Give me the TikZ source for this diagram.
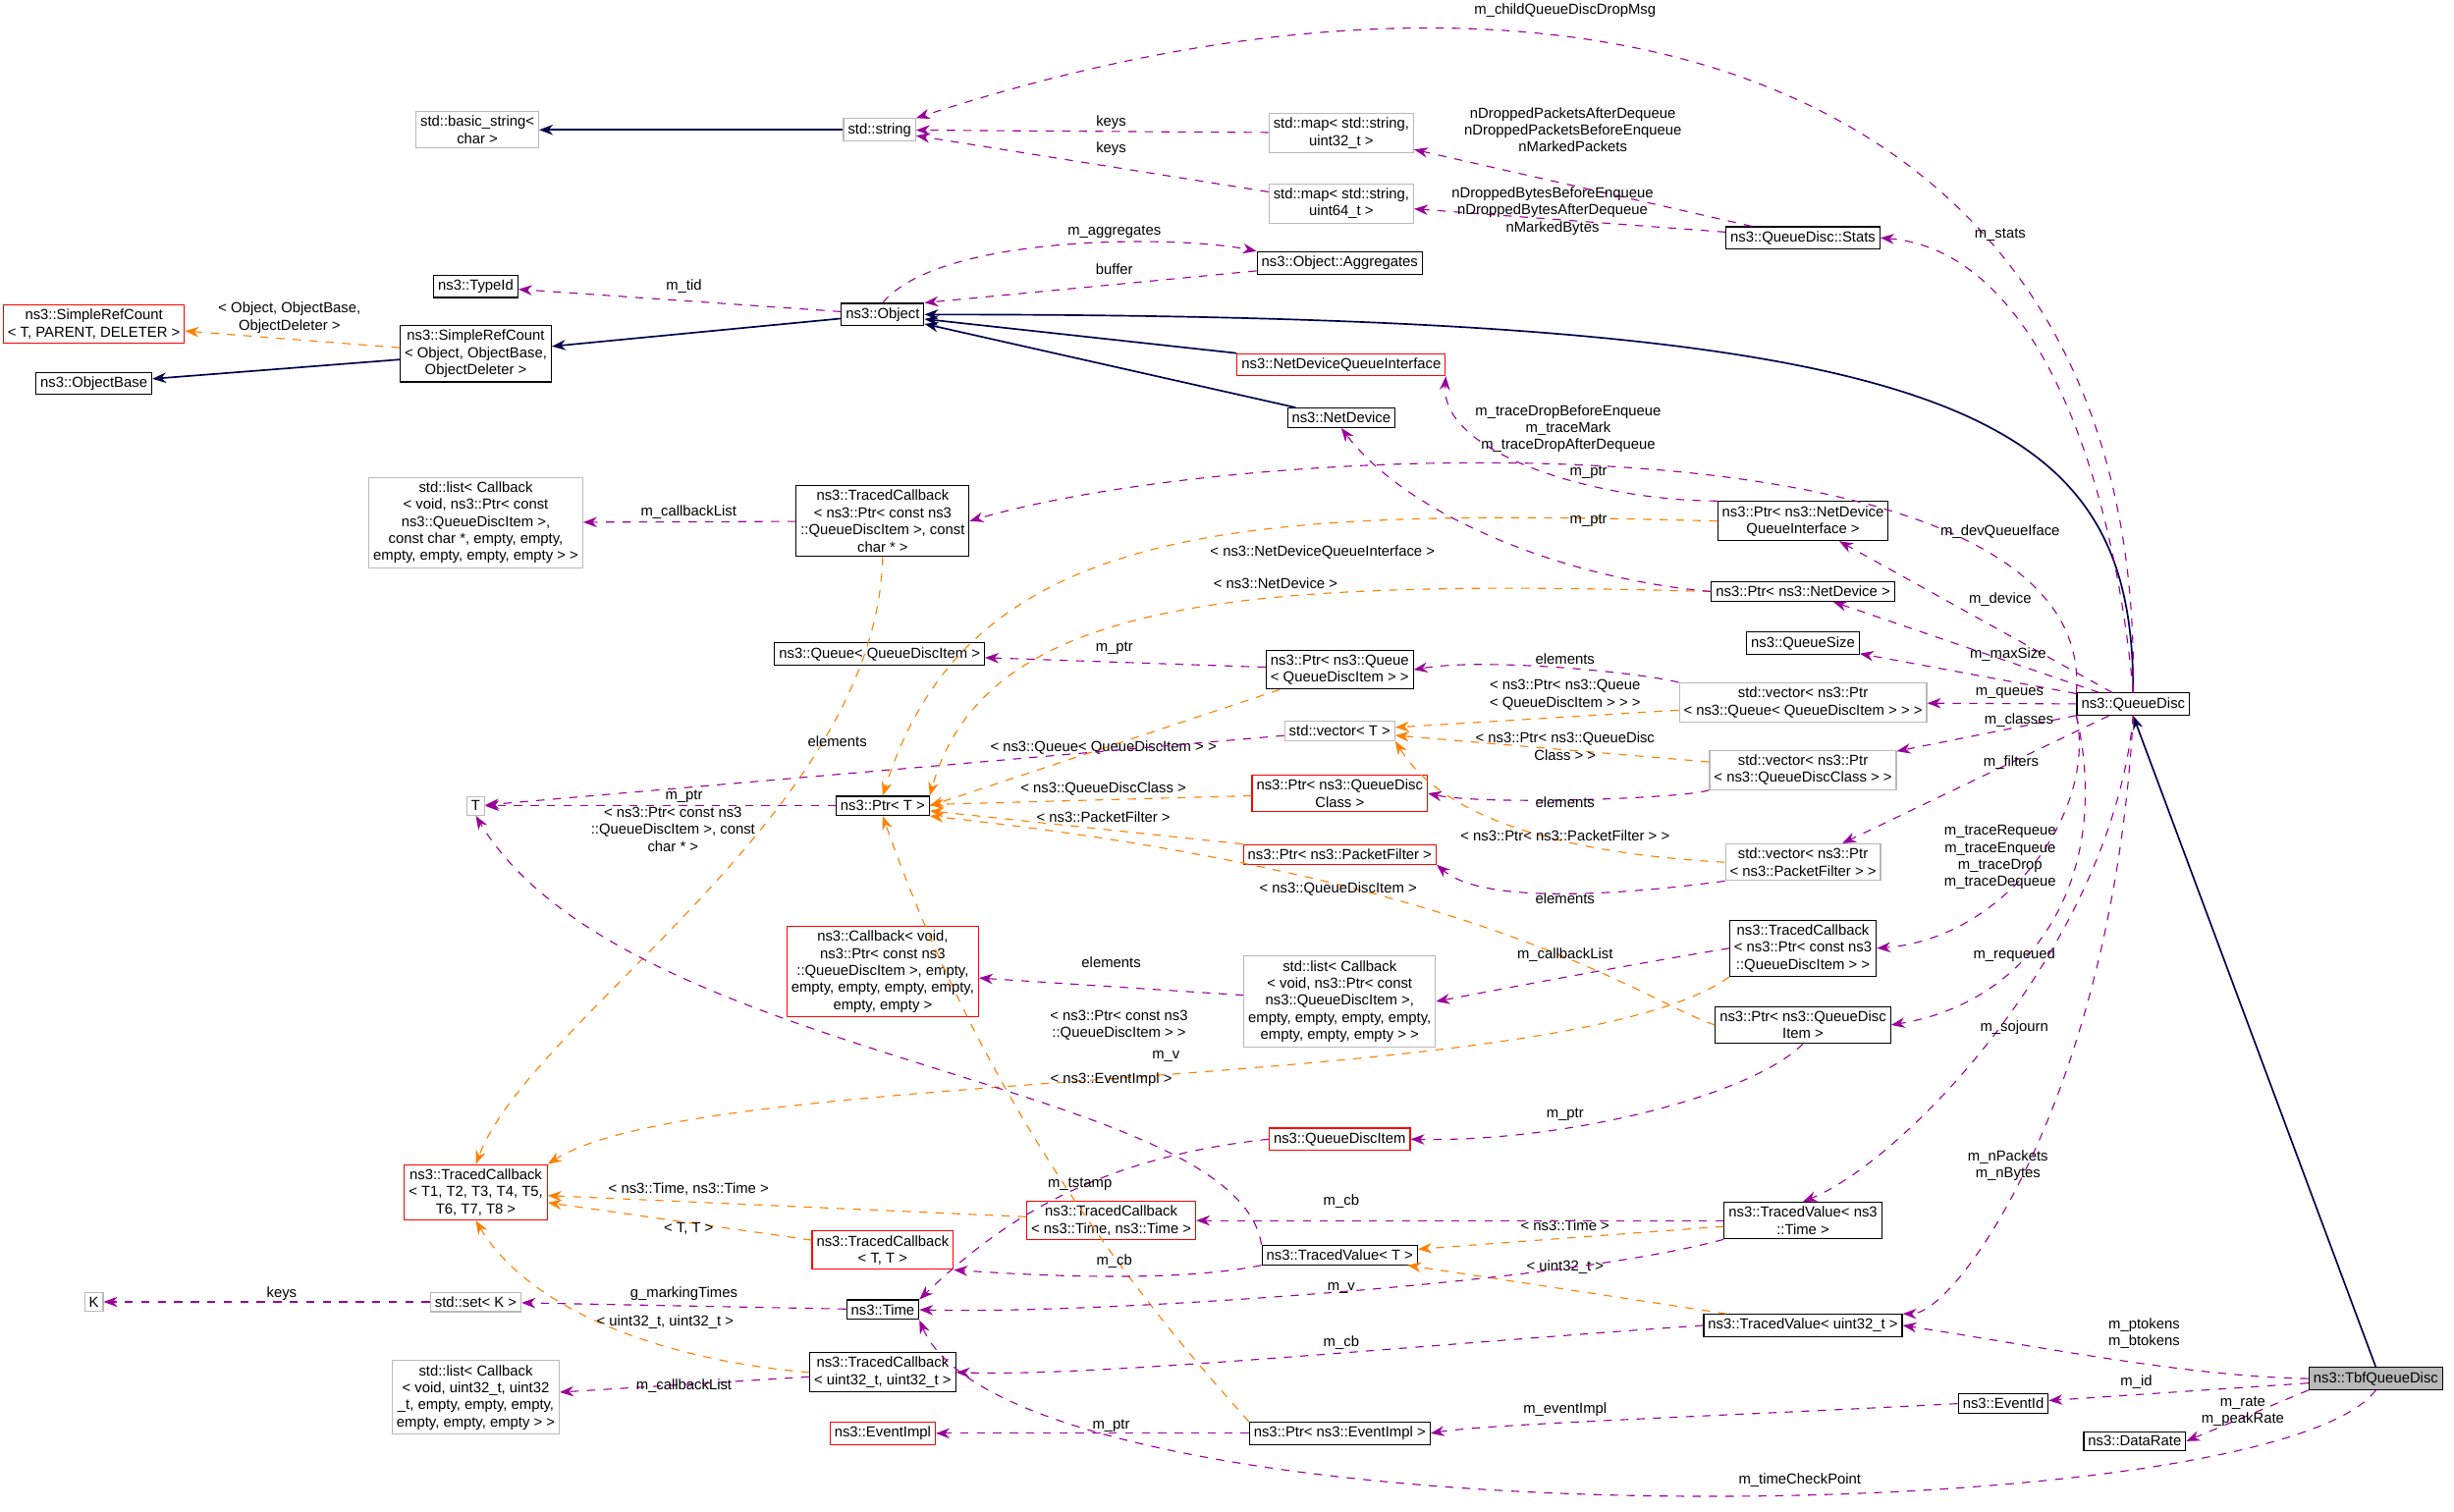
\documentclass[tikz,border=0pt]{standalone}
\usepackage{fontspec}
\setmainfont{Liberation Sans}
\usetikzlibrary{arrows.meta}
\begin{document}
\begin{tikzpicture}[
  x=0.02cm, y=-0.02cm,
  every node/.style={font=\fontsize{5.3}{6.2}\selectfont, align=center},
  cls/.style={rectangle, draw=black, inner sep=1.6pt, fill=white},
  tmpl/.style={cls, draw=red},
  ext/.style={cls, draw=gray!55},
  cur/.style={cls, fill=gray!55},
  inh/.style={-{Stealth[length=5pt]}, draw=blue!30!black, semithick},
  use/.style={-{Stealth[length=5pt]}, draw=violet!80!magenta, dashed},
  inst/.style={-{Stealth[length=5pt]}, draw=orange, dashed},
  lbl/.style={inner sep=1pt}
]
\useasboundingbox (0,0) rectangle (1568,966);

% Classes
\node[ext] (basicstring) at (305,83) {std::basic\_string<\\ char >};
\node[ext] (string) at (562,83) {std::string};
\node[ext] (mapu32) at (857,85) {std::map< std::string,\\ uint32\_t >};
\node[ext] (mapu64) at (857,130) {std::map< std::string,\\ uint64\_t >};
\node[cls] (stats) at (1152,152) {ns3::QueueDisc::Stats};
\node[cls] (typeid) at (304,183) {ns3::TypeId};
\node[cls] (aggregates) at (856,168) {ns3::Object::Aggregates};
\node[cls] (object) at (564,201) {ns3::Object};
\node[tmpl] (srcT) at (60,207) {ns3::SimpleRefCount\\< T, PARENT, DELETER >};
\node[cls] (srcObj) at (304,226) {ns3::SimpleRefCount\\< Object, ObjectBase,\\ ObjectDeleter >};
\node[cls] (objbase) at (60,245) {ns3::ObjectBase};
\node[tmpl] (ndqi) at (857,233) {ns3::NetDeviceQueueInterface};
\node[cls] (netdevice) at (857,267) {ns3::NetDevice};
\node[ext] (listcb1) at (304,334) {std::list< Callback\\< void, ns3::Ptr< const\\ ns3::QueueDiscItem >,\\ const char *, empty, empty,\\ empty, empty, empty, empty > >};
\node[cls] (tcb1) at (564,333) {ns3::TracedCallback\\< ns3::Ptr< const ns3\\::QueueDiscItem >, const\\ char * >};
\node[cls] (ptrndqi) at (1152,333) {ns3::Ptr< ns3::NetDevice\\QueueInterface >};
\node[cls] (ptrnd) at (1152,378) {ns3::Ptr< ns3::NetDevice >};
\node[cls] (queue) at (562,418) {ns3::Queue< QueueDiscItem >};
\node[cls] (ptrqueue) at (856,428) {ns3::Ptr< ns3::Queue\\< QueueDiscItem > >};
\node[cls] (qsize) at (1152,411) {ns3::QueueSize};
\node[cls] (queuedisc) at (1363,450) {ns3::QueueDisc};
\node[ext] (vecqueue) at (1152,449) {std::vector< ns3::Ptr\\< ns3::Queue< QueueDiscItem > > >};
\node[ext] (vecT) at (856,467) {std::vector< T >};
\node[ext] (vecclass) at (1152,492) {std::vector< ns3::Ptr\\< ns3::QueueDiscClass > >};
\node[ext] (T) at (304,515) {T};
\node[cls] (ptrT) at (564,515) {ns3::Ptr< T >};
\node[tmpl] (ptrclass) at (856,507) {ns3::Ptr< ns3::QueueDisc\\Class >};
\node[tmpl] (ptrpf) at (856,546) {ns3::Ptr< ns3::PacketFilter >};
\node[ext] (vecpf) at (1152,551) {std::vector< ns3::Ptr\\< ns3::PacketFilter > >};
\node[tmpl] (cbqdi) at (564,621) {ns3::Callback< void,\\ ns3::Ptr< const ns3\\::QueueDiscItem >, empty,\\ empty, empty, empty, empty,\\ empty, empty >};
\node[ext] (listcb2) at (856,640) {std::list< Callback\\< void, ns3::Ptr< const\\ ns3::QueueDiscItem >,\\ empty, empty, empty, empty,\\ empty, empty, empty > >};
\node[cls] (tcb2) at (1152,606) {ns3::TracedCallback\\< ns3::Ptr< const ns3\\::QueueDiscItem > >};
\node[cls] (ptrqdi) at (1152,655) {ns3::Ptr< ns3::QueueDisc\\Item >};
\node[tmpl] (qdi) at (856,728) {ns3::QueueDiscItem};
\node[tmpl] (tcbTTTT) at (304,762) {ns3::TracedCallback\\< T1, T2, T3, T4, T5,\\ T6, T7, T8 >};
\node[tmpl] (tcbtime) at (710,780) {ns3::TracedCallback\\< ns3::Time, ns3::Time >};
\node[tmpl] (tcbTT) at (564,799) {ns3::TracedCallback\\< T, T >};
\node[cls] (tvtime) at (1152,780) {ns3::TracedValue< ns3\\::Time >};
\node[cls] (tvT) at (856,802) {ns3::TracedValue< T >};
\node[ext] (K) at (60,832) {K};
\node[ext] (setK) at (304,832) {std::set< K >};
\node[cls] (time) at (564,837) {ns3::Time};
\node[cls] (tvu32) at (1152,847) {ns3::TracedValue< uint32\_t >};
\node[cls] (tcbu32) at (564,877) {ns3::TracedCallback\\< uint32\_t, uint32\_t >};
\node[ext] (listcb3) at (304,893) {std::list< Callback\\< void, uint32\_t, uint32\\\_t, empty, empty, empty,\\ empty, empty, empty > >};
\node[cls] (eventid) at (1280,897) {ns3::EventId};
\node[cur] (tbf) at (1518,881) {ns3::TbfQueueDisc};
\node[cls] (datarate) at (1364,921) {ns3::DataRate};
\node[tmpl] (eventimpl) at (564,916) {ns3::EventImpl};
\node[cls] (ptrevent) at (856,916) {ns3::Ptr< ns3::EventImpl >};

% Inheritance
\draw[inh] (string) -- (basicstring);
\draw[inh] (object) -- (srcObj);
\draw[inh] (srcObj) -- (objbase);
\draw[inh] (ndqi) -- (object);
\draw[inh] (netdevice) -- (object);
\draw[inh] (queuedisc.north) .. controls (1363,260) and (1250,201) .. (object.east);
\draw[inh] (tbf.north) -- (queuedisc.south);

% Template instances
\draw[inst] (srcObj) -- (srcT) node[lbl] at (185,203) {< Object, ObjectBase,\\ ObjectDeleter >};
\draw[inst] (tcb1.south) .. controls (560,520) and (340,650) .. (tcbTTTT.north) node[lbl] at (430,530) {< ns3::Ptr< const ns3\\::QueueDiscItem >, const\\ char * >};
\draw[inst] (ptrndqi.west) .. controls (800,325) and (620,330) .. (ptrT.north) node[lbl] at (845,353) {< ns3::NetDeviceQueueInterface >};
\draw[inst] (ptrnd.west) .. controls (800,370) and (630,380) .. (ptrT.north east) node[lbl] at (815,373) {< ns3::NetDevice >};
\draw[inst] (ptrqueue) -- (ptrT.east) node[lbl] at (705,478) {< ns3::Queue< QueueDiscItem > >};
\draw[inst] (vecqueue) -- (vecT) node[lbl] at (1000,444) {< ns3::Ptr< ns3::Queue\\< QueueDiscItem > > >};
\draw[inst] (vecclass) -- (vecT) node[lbl] at (1000,477) {< ns3::Ptr< ns3::QueueDisc\\Class > >};
\draw[inst] (vecpf.west) .. controls (990,545) and (920,520) .. (vecT.south east) node[lbl] at (1000,534) {< ns3::Ptr< ns3::PacketFilter > >};
\draw[inst] (ptrclass) -- (ptrT) node[lbl] at (705,504) {< ns3::QueueDiscClass >};
\draw[inst] (ptrpf) -- (ptrT) node[lbl] at (705,522) {< ns3::PacketFilter >};
\draw[inst] (ptrqdi.west) .. controls (1050,640) and (950,560) .. (ptrT.south east) node[lbl] at (855,568) {< ns3::QueueDiscItem >};
\draw[inst] (tcb2.south west) .. controls (1000,700) and (450,680) .. (tcbTTTT.north east) node[lbl] at (715,655) {< ns3::Ptr< const ns3\\::QueueDiscItem > >};
\draw[inst] (tcbtime) -- (tcbTTTT) node[lbl] at (440,760) {< ns3::Time, ns3::Time >};
\draw[inst] (tcbTT) -- (tcbTTTT) node[lbl] at (440,785) {< T, T >};
\draw[inst] (tcbu32.west) .. controls (430,870) and (340,840) .. (tcbTTTT.south) node[lbl] at (425,845) {< uint32\_t, uint32\_t >};
\draw[inst] (ptrevent.north west) .. controls (700,800) and (620,680) .. (ptrT.south) node[lbl] at (710,690) {< ns3::EventImpl >};
\draw[inst] (tvtime) -- (tvT) node[lbl] at (1000,783) {< ns3::Time >};
\draw[inst] (tvu32) -- (tvT) node[lbl] at (1000,810) {< uint32\_t >};

% Members
\draw[use] (queuedisc.north) .. controls (1370,40) and (1000,-60) .. (string.north east) node[lbl] at (1000,7) {m\_childQueueDiscDropMsg};
\draw[use] (mapu32) -- (string) node[lbl] at (710,78) {keys};
\draw[use] (mapu64) -- (string) node[lbl] at (710,95) {keys};
\draw[use] (stats) -- (mapu32) node[lbl] at (1005,83) {nDroppedPacketsAfterDequeue\\nDroppedPacketsBeforeEnqueue\\nMarkedPackets};
\draw[use] (stats) -- (mapu64) node[lbl] at (992,135) {nDroppedBytesBeforeEnqueue\\nDroppedBytesAfterDequeue\\nMarkedBytes};
\draw[use] (queuedisc.north) .. controls (1350,300) and (1300,160) .. (stats.east) node[lbl] at (1278,150) {m\_stats};
\draw[use] (object) -- (typeid) node[lbl] at (437,183) {m\_tid};
\draw[use] (object.north) .. controls (600,150) and (750,150) .. (aggregates.north west) node[lbl] at (712,148) {m\_aggregates};
\draw[use] (aggregates) -- (object.north east) node[lbl] at (712,172) {buffer};
\draw[use] (ptrndqi.north west) .. controls (1020,320) and (920,290) .. (ndqi.south east) node[lbl] at (1015,302) {m\_ptr};
\draw[use] (ptrnd.west) .. controls (1000,370) and (900,330) .. (netdevice.south) node[lbl] at (1015,333) {m\_ptr};
\draw[use] (queuedisc.north west) .. controls (1340,260) and (800,280) .. (tcb1.east) node[lbl] at (1002,274) {m\_traceDropBeforeEnqueue\\m\_traceMark\\m\_traceDropAfterDequeue};
\draw[use] (tcb1) -- (listcb1) node[lbl] at (440,327) {m\_callbackList};
\draw[use] (queuedisc) -- (ptrndqi) node[lbl] at (1278,340) {m\_devQueueIface};
\draw[use] (queuedisc) -- (ptrnd) node[lbl] at (1278,383) {m\_device};
\draw[use] (ptrqueue) -- (queue) node[lbl] at (712,414) {m\_ptr};
\draw[use] (queuedisc) -- (qsize) node[lbl] at (1283,418) {m\_maxSize};
\draw[use] (queuedisc) -- (vecqueue) node[lbl] at (1284,443) {m\_queues};
\draw[use] (vecqueue.north west) .. controls (1050,430) and (950,420) .. (ptrqueue.east) node[lbl] at (1000,421) {elements};
\draw[use] (queuedisc) -- (vecclass) node[lbl] at (1290,460) {m\_classes};
\draw[use] (vecT) -- (T) node[lbl] at (535,474) {elements};
\draw[use] (ptrT) -- (T) node[lbl] at (437,509) {m\_ptr};
\draw[use] (vecclass.south west) .. controls (1080,510) and (950,515) .. (ptrclass.east) node[lbl] at (1000,513) {elements};
\draw[use] (queuedisc) -- (vecpf) node[lbl] at (1285,487) {m\_filters};
\draw[use] (vecpf.south west) .. controls (1050,570) and (950,580) .. (ptrpf.south east) node[lbl] at (1000,574) {elements};
\draw[use] (queuedisc.south west) .. controls (1340,520) and (1280,600) .. (tcb2.east) node[lbl] at (1278,548) {m\_traceRequeue\\m\_traceEnqueue\\m\_traceDrop\\m\_traceDequeue};
\draw[use] (listcb2) -- (cbqdi) node[lbl] at (710,615) {elements};
\draw[use] (tcb2.west) .. controls (1050,615) and (970,630) .. (listcb2.east) node[lbl] at (1000,610) {m\_callbackList};
\draw[use] (queuedisc.south west) .. controls (1350,560) and (1300,640) .. (ptrqdi.east) node[lbl] at (1287,610) {m\_requeued};
\draw[use] (ptrqdi.south) .. controls (1120,700) and (1000,730) .. (qdi.east) node[lbl] at (1000,712) {m\_ptr};
\draw[use] (tvT.north west) .. controls (790,690) and (400,680) .. (T.south) node[lbl] at (745,675) {m\_v};
\draw[use] (queuedisc.south) .. controls (1350,600) and (1220,740) .. (tvtime.north) node[lbl] at (1287,657) {m\_sojourn};
\draw[use] (qdi.west) .. controls (700,740) and (640,780) .. (time.north east) node[lbl] at (690,757) {m\_tstamp};
\draw[use] (tvtime) -- (tcbtime) node[lbl] at (857,768) {m\_cb};
\draw[use] (tvT.south west) .. controls (750,820) and (660,815) .. (tcbTT.south east) node[lbl] at (712,806) {m\_cb};
\draw[use] (tvtime.south west) .. controls (1000,820) and (700,840) .. (time.east) node[lbl] at (857,823) {m\_v};
\draw[use] (queuedisc.south) .. controls (1350,700) and (1250,840) .. (tvu32.north east) node[lbl] at (1283,745) {m\_nPackets\\m\_nBytes};
\draw[use] (time) -- (setK) node[lbl] at (437,827) {g\_markingTimes};
\draw[use] (setK) -- (K) node[lbl] at (180,827) {keys};
\draw[use] (tvu32.west) .. controls (900,860) and (700,880) .. (tcbu32.east) node[lbl] at (857,858) {m\_cb};
\draw[use] (tcbu32) -- (listcb3) node[lbl] at (437,886) {m\_callbackList};
\draw[use] (tbf.west) .. controls (1400,880) and (1300,860) .. (tvu32.east) node[lbl] at (1370,852) {m\_ptokens\\m\_btokens};
\draw[use] (tbf) -- (eventid) node[lbl] at (1365,883) {m\_id};
\draw[use] (eventid.west) .. controls (1100,905) and (950,910) .. (ptrevent.east) node[lbl] at (1000,901) {m\_eventImpl};
\draw[use] (tbf.south west) -- (datarate.east) node[lbl] at (1433,902) {m\_rate\\m\_peakRate};
\draw[use] (ptrevent) -- (eventimpl) node[lbl] at (710,911) {m\_ptr};
\draw[use] (tbf.south) .. controls (1450,980) and (650,990) .. (time.south east) node[lbl] at (1150,946) {m\_timeCheckPoint};
\end{tikzpicture}
\end{document}
